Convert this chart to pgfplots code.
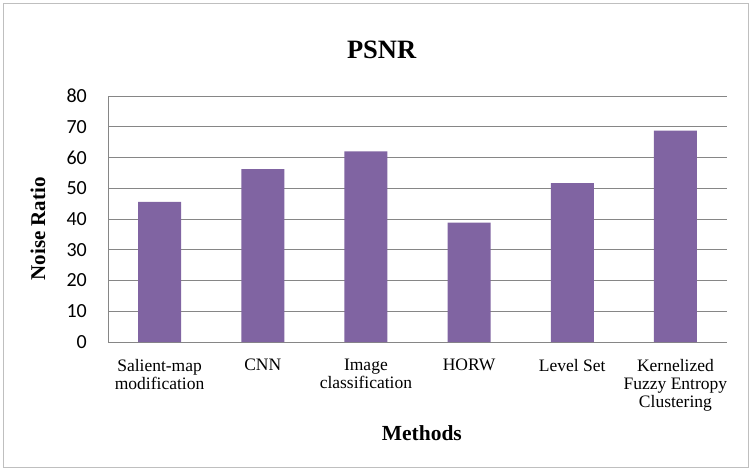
\documentclass[border=0pt]{standalone}
\usepackage{fontspec}
\setmainfont{Liberation Serif}
\newfontfamily\carlito{Carlito}
\usepackage{pgfplots}
\pgfplotsset{compat=1.18}
\definecolor{barc}{HTML}{8064A2}
\definecolor{gridc}{HTML}{868686}
\definecolor{framec}{HTML}{BFBFBF}
\begin{document}
\begin{tikzpicture}[x=1pt,y=1pt]
\path[use as bounding box] (0,0) rectangle (752,472);
\draw[framec, line width=0.8pt] (3.5,4.5) rectangle (748.5,468.5);
\begin{axis}[
  at={(108pt,130pt)}, anchor=south west,
  scale only axis, width=619pt, height=246pt,
  ymin=0, ymax=80, ytick={0,10,...,80},
  xmin=-0.5, xmax=5.5, xtick={0,1,2,3,4,5},
  xticklabels={{Salient-map\\modification},{CNN},{Image\\classification},{HORW},{Level Set},{Kernelized\\Fuzzy Entropy\\Clustering}},
  ybar, bar width=43pt,
  axis x line*=bottom, axis y line*=left,
  axis line style={gridc, line width=1pt, -},
  ymajorgrids, major grid style={gridc, line width=1pt},
  major tick length=0pt,
  /pgf/number format/assume math mode=true,
  yticklabel style={font=\fontsize{20}{22}\selectfont\carlito, anchor=east, inner sep=0pt, xshift=-21pt},
  xticklabel style={font=\fontsize{17.5}{18}\selectfont, align=center, anchor=north, inner sep=0pt, yshift=-17pt},
  title={\fontsize{26.5}{30}\selectfont\bfseries PSNR},
  every axis title/.style={at={(axis description cs:0.442,1)}, anchor=center, yshift=46pt},
  xlabel={\fontsize{21.5}{24}\selectfont\bfseries Methods},
  every axis x label/.style={at={(axis description cs:0.507,0)}, anchor=center, yshift=-91pt},
  ylabel={\fontsize{21}{24}\selectfont\bfseries Noise Ratio},
  every axis y label/.style={at={(axis description cs:0,0.46)}, anchor=center, rotate=90, yshift=70pt},
]
\addplot[fill=barc, draw=none] coordinates {(0,45.6) (1,56.2) (2,62.0) (3,38.8) (4,51.7) (5,68.7)};
\end{axis}
\end{tikzpicture}
\end{document}
